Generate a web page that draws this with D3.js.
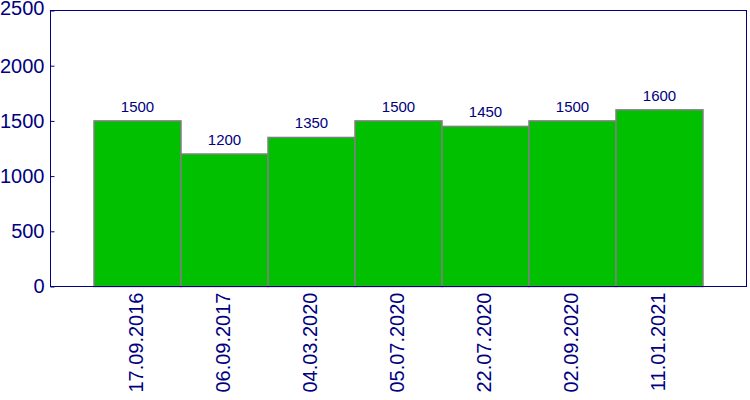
<!DOCTYPE html>
<html>
<head>
<meta charset="utf-8">
<script src="https://cdn.jsdelivr.net/npm/d3@7"></script>
<style>
  body { margin: 0; background: #fff; }
  text { font-family: "Liberation Sans", Arial, sans-serif; fill: #000080; }
</style>
</head>
<body>
<div id="result"></div>
<script>
const dates = ['17.09.2016', '06.09.2017', '04.03.2020', '05.07.2020', '22.07.2020', '02.09.2020', '11.01.2021'];
const values = [1500, 1200, 1350, 1500, 1450, 1500, 1600];
const yTicks = [0, 500, 1000, 1500, 2000, 2500];

const width = 750, height = 400;
const margin = { top: 10.5, right: 3.5, bottom: 113.5, left: 50.5 };
const innerW = width - margin.left - margin.right;
const innerH = height - margin.top - margin.bottom;

const svg = d3.select('#result').append('svg')
  .attr('width', width)
  .attr('height', height);

const g = svg.append('g')
  .attr('transform', `translate(${margin.left},${margin.top})`);

const x = d3.scaleBand().domain(dates).range([0, innerW]).paddingInner(0).paddingOuter(0.5);
const y = d3.scaleLinear().domain([0, 2500]).range([innerH, 0]);

// bars
g.selectAll('rect.bar')
  .data(values)
  .enter().append('rect')
  .attr('class', 'bar')
  .attr('x', (d, i) => x(dates[i]))
  .attr('y', d => y(d))
  .attr('width', x.bandwidth())
  .attr('height', d => innerH - y(d))
  .attr('fill', '#00c000')
  .attr('stroke', '#808080')
  .attr('stroke-width', 1.5);

// value labels
g.selectAll('text.val')
  .data(values)
  .enter().append('text')
  .attr('class', 'val')
  .attr('x', (d, i) => x(dates[i]) + x.bandwidth() / 2)
  .attr('y', d => y(d) - 9)
  .attr('text-anchor', 'middle')
  .style('font-size', '15px')
  .text(d => d);

// y axis
const yAxis = g.append('g')
  .call(d3.axisLeft(y).tickValues(yTicks).tickFormat(d3.format('d')).tickSize(-4).tickPadding(6));
yAxis.select('.domain').remove();
yAxis.selectAll('line').attr('stroke', '#000080');
yAxis.selectAll('text').style('font-size', '20px').attr('fill', '#000080');
yAxis.selectAll('.tick').filter(d => d === 2500).select('text').attr('dy', '0.2em');

// x axis labels
const xAxis = g.append('g')
  .attr('transform', `translate(0,${innerH})`)
  .call(d3.axisBottom(x).tickSize(0).tickPadding(0));
xAxis.select('.domain').remove();
xAxis.selectAll('text')
  .style('font-size', '20px')
  .attr('fill', '#000080')
  .attr('text-anchor', 'end')
  .attr('transform', 'rotate(-90)')
  .attr('x', -6)
  .attr('y', -2)
  .attr('dy', '0.35em');

// frame
g.append('rect')
  .attr('width', innerW)
  .attr('height', innerH)
  .attr('fill', 'none')
  .attr('stroke', '#000080')
  .attr('stroke-width', 1);
</script>
</body>
</html>
